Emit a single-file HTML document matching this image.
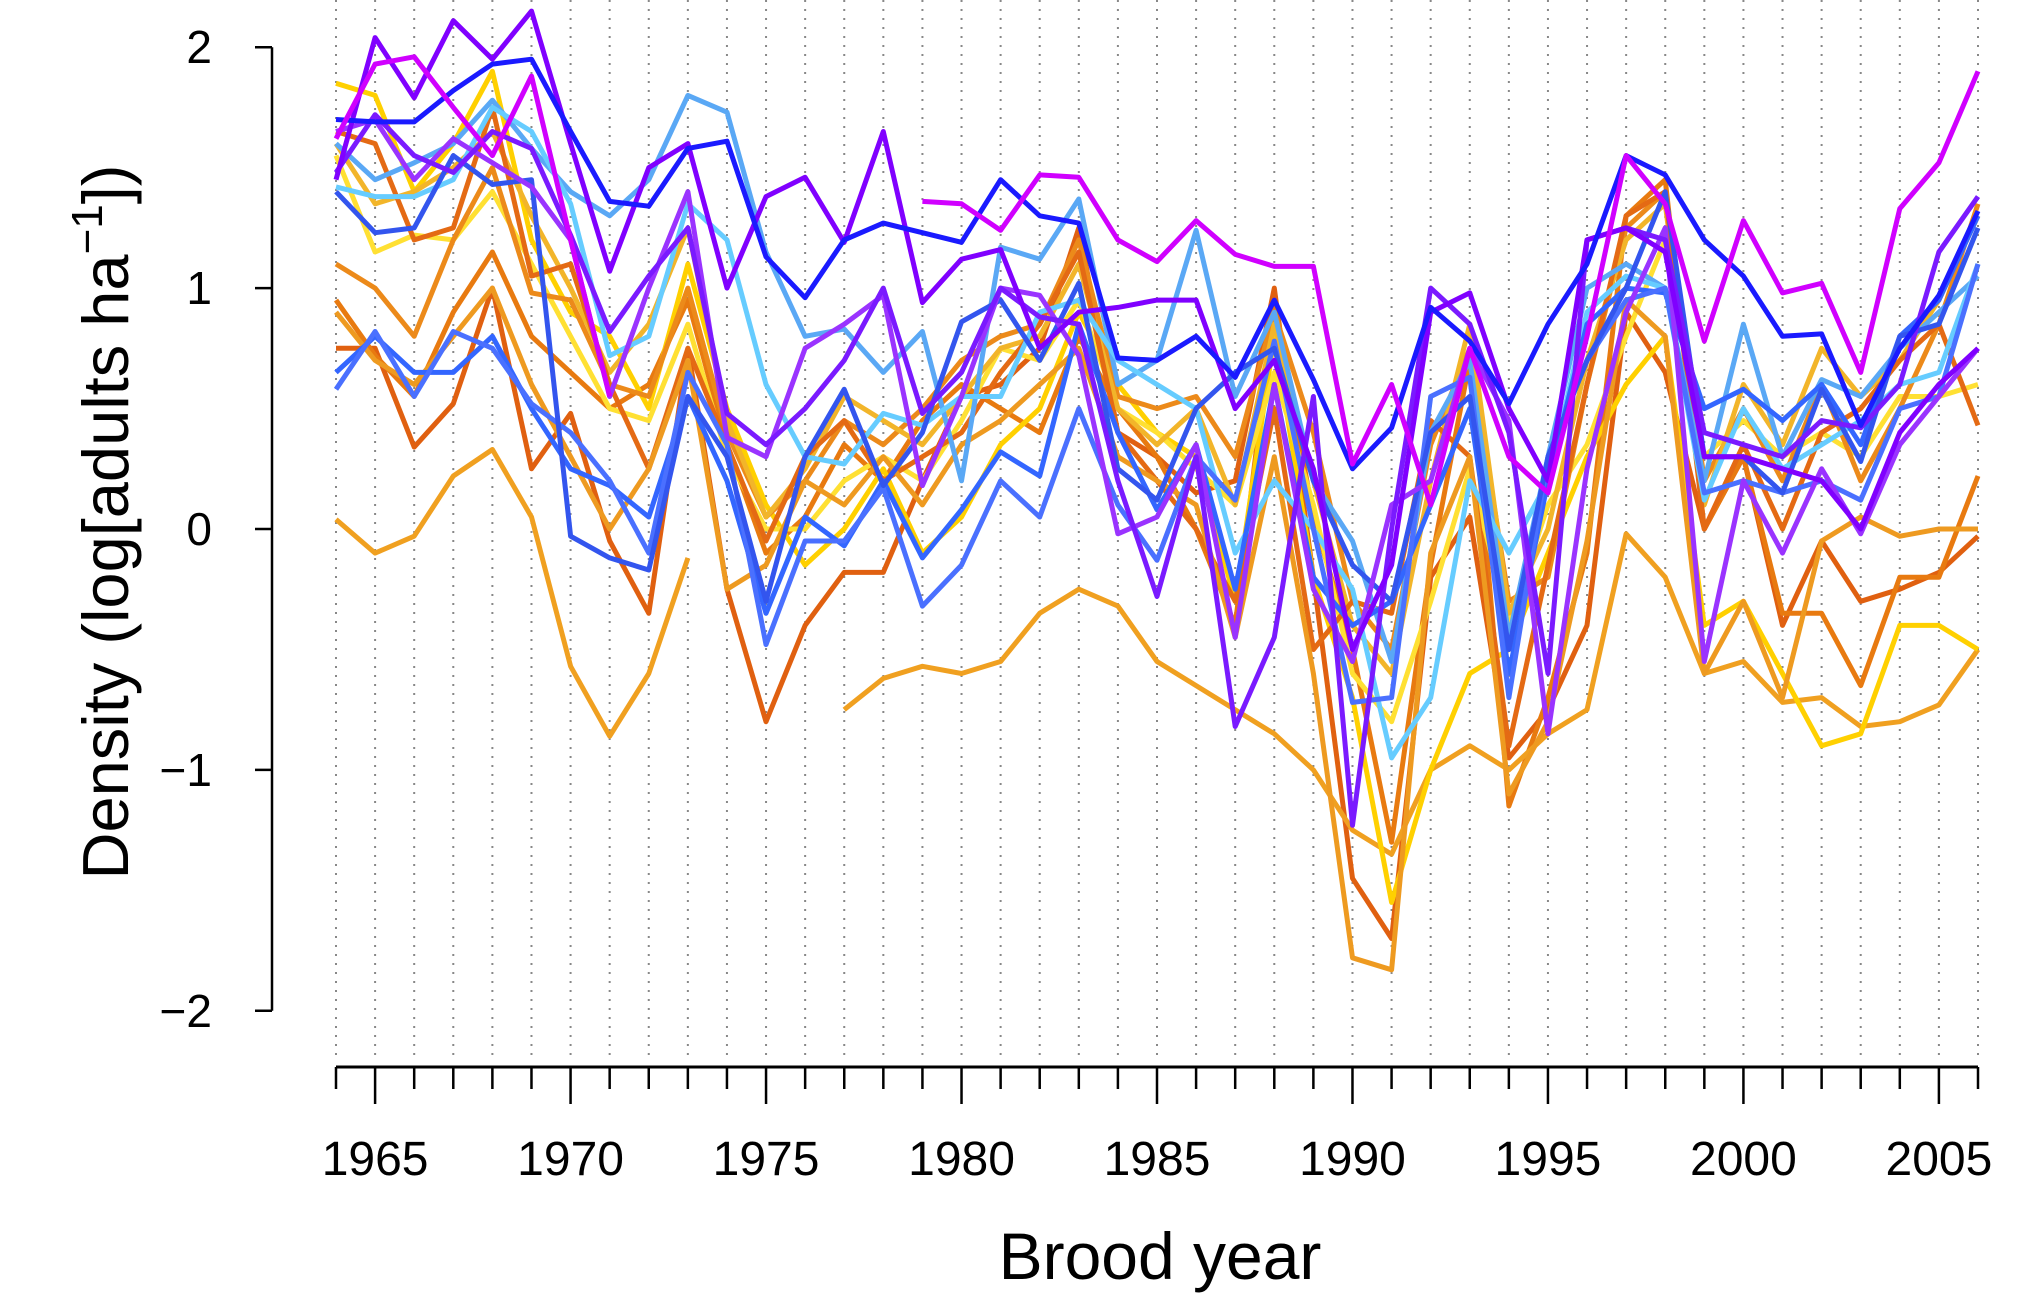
<!DOCTYPE html>
<html><head><meta charset="utf-8"><style>
html,body{margin:0;padding:0;background:#fff;}
svg{display:block;font-family:"Liberation Sans",sans-serif;}
</style></head><body>
<svg id="chart" width="2036" height="1308" viewBox="0 0 2036 1308" xmlns="http://www.w3.org/2000/svg">
<g id="grid"></g>
<g id="series"></g>
<g id="axes"></g>
<text x="1160" y="1279" font-size="66" text-anchor="middle">Brood year</text>
<text transform="translate(128,522) rotate(-90)" font-size="65" text-anchor="middle">Density (log[adults ha<tspan font-size="44" dy="-26">−1</tspan><tspan dy="26">])</tspan></text>
</svg>
<script>
const years = []; for (let y = 1964; y <= 2006; y++) years.push(y);
const xTicks = [1965, 1970, 1975, 1980, 1985, 1990, 1995, 2000, 2005];
const yTicks = [2, 1, 0, -1, -2];
const yTickLabels = ["2", "1", "0", "−1", "−2"];
const seriesColors = ["#e06010","#e87a10","#f0a020","#ffd000","#ffe033","#ec8a1a","#f2b52a","#e46a14","#ee9a20","#5aa8f5","#66ccff","#3366ff","#4a70ff","#3355ee","#9a33ff","#7a1aff","#8000ff","#1a1aff","#d000ff"];
const N = null;
const sO1=[0.75,0.75,0.34,0.52,1.0,0.25,0.48,-0.05,-0.35,0.75,-0.25,-0.8,-0.4,-0.18,-0.18,0.2,0.55,0.6,0.75,1.25,0.4,0.3,0.15,0.2,1.0,-0.2,-1.45,-1.7,-0.2,0.05,-0.95,-0.75,-0.4,0.9,0.65,0.0,0.3,-0.4,-0.05,-0.3,-0.25,-0.18,-0.03];
const sO2=[0.95,0.72,0.55,0.9,1.15,0.8,0.65,0.5,0.6,0.95,0.35,-0.1,0.05,0.35,0.2,0.45,0.6,0.5,0.4,0.8,0.5,0.3,0.0,-0.4,0.95,0.05,-0.5,-1.3,-0.15,0.7,-1.15,-0.7,-0.1,1.3,1.45,0.0,0.3,-0.35,-0.35,-0.65,-0.2,-0.2,0.22];
const sO3=[0.04,-0.1,-0.03,0.22,0.33,0.05,-0.57,-0.86,-0.6,-0.12,N,N,N,-0.75,-0.62,-0.57,-0.6,-0.55,-0.35,-0.25,-0.32,-0.55,-0.65,-0.75,-0.85,-1.0,-1.25,-1.35,-1.0,-0.9,-1.0,-0.85,-0.75,-0.02,-0.2,-0.6,-0.55,-0.72,-0.7,-0.82,-0.8,-0.73,-0.5];
const sO4=[1.85,1.8,1.4,1.6,1.9,1.2,0.9,0.8,0.5,1.1,0.5,0.1,-0.15,0.0,0.25,-0.1,0.05,0.35,0.5,0.9,0.6,0.4,0.3,-0.3,0.8,-0.2,-0.7,-1.55,-1.0,-0.6,-0.5,-0.1,0.3,0.6,0.8,-0.4,-0.3,-0.6,-0.9,-0.85,-0.4,-0.4,-0.5];
const sO5=[1.55,1.15,1.22,1.2,1.4,1.1,0.8,0.5,0.45,0.85,0.3,0.0,0.0,0.2,0.3,0.2,0.45,0.75,0.7,0.95,0.5,0.4,0.25,0.1,0.65,0.1,-0.6,-0.8,-0.3,0.25,-0.4,0.1,0.35,0.8,1.2,0.3,0.45,0.3,0.4,0.3,0.55,0.55,0.6];
const sO6=[1.1,1.0,0.8,1.2,1.5,0.98,0.95,0.6,0.55,1.0,0.4,0.05,0.2,0.45,0.35,0.5,0.7,0.8,0.85,1.2,0.55,0.5,0.55,0.3,0.9,0.4,-0.3,-0.5,0.35,0.75,-0.3,-0.2,0.6,1.25,1.4,0.2,0.5,0.2,0.6,0.2,0.5,0.85,1.35];
const sO7=[1.6,1.35,1.4,1.5,1.65,1.3,1.0,0.65,0.85,1.25,0.45,0.05,0.25,0.55,0.45,0.35,0.55,0.75,0.8,1.1,0.5,0.35,0.5,0.1,0.85,0.2,-0.4,-0.6,0.2,0.85,-0.35,0.0,0.7,1.2,1.35,0.1,0.6,0.35,0.75,0.55,0.7,0.95,1.3];
const sO8=[1.65,1.6,1.2,1.25,1.75,1.05,1.1,0.6,0.25,0.75,0.35,-0.05,0.3,0.45,0.2,0.3,0.4,0.65,0.85,1.15,0.4,0.2,0.0,-0.3,0.5,-0.5,-0.3,-0.35,0.45,0.3,-0.9,-0.15,0.6,1.3,1.4,0.0,0.35,0.0,0.4,0.5,0.7,0.85,0.43];
const sO9=[0.9,0.7,0.6,0.8,1.0,0.6,0.3,0.0,0.25,0.7,-0.25,-0.15,0.2,0.1,0.3,0.1,0.35,0.45,0.6,0.75,0.3,0.2,0.1,-0.45,0.3,-0.6,-1.78,-1.83,-0.1,0.3,-1.1,-0.8,-0.05,0.95,0.8,-0.6,-0.3,-0.7,-0.05,0.05,-0.03,0.0,0.0];
const sB1=[1.6,1.45,1.52,1.6,1.78,1.58,1.4,1.3,1.45,1.8,1.73,1.15,0.8,0.83,0.65,0.82,0.2,1.17,1.12,1.37,0.6,0.7,1.24,0.55,0.9,0.2,-0.05,-0.55,0.4,0.7,-0.45,0.3,1.0,1.1,1.0,0.2,0.85,0.3,0.62,0.55,0.75,0.9,1.05];
const sB2=[1.42,1.38,1.38,1.45,1.75,1.65,1.35,0.72,0.8,1.35,1.2,0.6,0.3,0.27,0.48,0.43,0.55,0.55,0.9,0.95,0.7,0.6,0.5,-0.1,0.2,0.0,-0.25,-0.95,-0.7,0.2,-0.1,0.2,0.9,1.05,1.0,0.12,0.5,0.25,0.35,0.45,0.6,0.65,1.1];
const sB3=[0.65,0.8,0.65,0.65,0.8,0.5,0.25,0.18,0.05,0.55,0.2,-0.35,0.05,-0.07,0.2,-0.12,0.08,0.32,0.22,0.85,0.4,0.08,0.35,-0.25,0.6,-0.2,-0.4,-0.3,0.1,0.5,-0.6,0.2,0.85,1.0,0.98,0.5,0.58,0.45,0.6,0.35,0.8,0.95,1.3];
const sB4=[0.58,0.82,0.55,0.82,0.75,0.52,0.4,0.2,-0.1,0.65,0.35,-0.48,-0.05,-0.05,0.17,-0.32,-0.15,0.2,0.05,0.5,0.1,-0.13,0.3,0.12,0.78,0.0,-0.72,-0.7,0.55,0.63,-0.7,0.3,0.7,0.95,1.0,0.15,0.2,0.15,0.2,0.12,0.5,0.55,1.1];
const sB5=[1.4,1.23,1.25,1.55,1.43,1.45,-0.03,-0.12,-0.17,0.55,0.3,-0.3,0.3,0.58,0.18,0.4,0.86,0.95,0.7,1.02,0.25,0.12,0.5,0.65,0.75,0.2,-0.15,-0.3,0.4,0.55,-0.5,0.3,0.7,1.0,1.4,0.3,0.3,0.15,0.58,0.28,0.8,0.85,1.25];
const sP1=[1.65,1.7,1.45,1.62,1.52,1.42,1.2,0.55,1.0,1.4,0.38,0.3,0.75,0.85,0.97,0.18,0.55,1.0,0.97,0.72,-0.02,0.05,0.35,-0.45,0.6,-0.25,-0.55,0.1,0.2,0.75,0.45,-0.85,0.25,0.9,1.25,-0.55,0.2,-0.1,0.25,-0.02,0.35,0.55,0.75];
const sP2=[1.48,1.72,1.55,1.48,1.65,1.58,1.22,0.82,1.05,1.25,0.48,0.35,0.5,0.7,1.0,0.48,0.65,1.0,0.88,0.85,0.2,-0.28,0.3,-0.82,-0.45,0.55,-1.23,0.0,1.0,0.85,0.4,-0.6,1.2,1.25,1.2,0.4,0.35,0.3,0.45,0.42,0.6,1.15,1.38];
const sP3=[1.45,2.04,1.79,2.11,1.95,2.15,1.6,1.07,1.5,1.6,1.0,1.38,1.46,1.19,1.65,0.94,1.12,1.16,0.75,0.9,0.92,0.95,0.95,0.5,0.7,0.25,-0.5,-0.15,0.9,0.98,0.5,0.2,1.2,1.25,1.15,0.3,0.3,0.25,0.2,0.0,0.4,0.6,0.75];
const sB6=[1.7,1.69,1.69,1.82,1.93,1.95,1.65,1.36,1.34,1.58,1.61,1.13,0.96,1.2,1.27,1.23,1.19,1.45,1.3,1.27,0.71,0.7,0.8,0.63,0.95,0.62,0.25,0.42,0.92,0.78,0.52,0.85,1.1,1.55,1.47,1.2,1.05,0.8,0.81,0.43,0.75,0.97,1.32];
const sM1=[1.62,1.93,1.96,1.75,1.55,1.88,1.2,0.55,N,N,N,N,N,N,N,1.36,1.35,1.24,1.47,1.46,1.2,1.11,1.28,1.14,1.09,1.09,0.27,0.6,0.1,0.75,0.3,0.15,0.8,1.55,1.35,0.78,1.28,0.98,1.02,0.65,1.33,1.52,1.9];
const allSeries=[sO1,sO2,sO3,sO4,sO5,sO6,sO7,sO8,sO9,sB1,sB2,sB3,sB4,sB5,sP1,sP2,sP3,sB6,sM1];

const NS="http://www.w3.org/2000/svg";
const x0=336,x1=1978,yZero=529,yUnit=240.9;
function xs(yr){return x0+(yr-1964)*(x1-x0)/(2006-1964);}
function ys(v){return yZero-v*yUnit;}
function mk(tag,attrs,parent){const e=document.createElementNS(NS,tag);for(const k in attrs)e.setAttribute(k,attrs[k]);parent.appendChild(e);return e;}
const grid=document.getElementById('grid'),ser=document.getElementById('series'),axes=document.getElementById('axes');
years.forEach(yr=>{
  const l=mk('line',{x1:xs(yr),x2:xs(yr),y1:0,y2:1060,stroke:'#888','stroke-width':2,'stroke-dasharray':'2 7'},grid);
  
  
});
allSeries.forEach((s,i)=>{
  let d='',pen=false;
  s.forEach((v,j)=>{
    if(v===null){pen=false;return;}
    d+=(pen?'L':'M')+xs(years[j]).toFixed(1)+' '+ys(v).toFixed(1)+' ';pen=true;
  });
  const p=mk('path',{d:d,fill:'none',stroke:seriesColors[i],'stroke-width':5,'stroke-linejoin':'round'},ser);
  
  
});
const ya=mk('line',{x1:272,x2:272,y1:ys(2),y2:ys(-2),stroke:'#000','stroke-width':2.5},axes);


yTicks.forEach((v,i)=>{
  mk('line',{x1:255,x2:272,y1:ys(v),y2:ys(v),stroke:'#000','stroke-width':2.5},axes);
  const t=mk('text',{x:212,y:ys(v)+16,'font-size':46,'text-anchor':'end'},axes);
  t.textContent=yTickLabels[i];
  
  
});
const xa=mk('line',{x1:x0,x2:x1,y1:1067,y2:1067,stroke:'#000','stroke-width':3},axes);


years.forEach(yr=>{
  const major=xTicks.indexOf(yr)>=0;
  mk('line',{x1:xs(yr),x2:xs(yr),y1:1067,y2:major?1104:1089,stroke:'#000','stroke-width':2.5},axes);
});
xTicks.forEach(yr=>{
  const t=mk('text',{x:xs(yr),y:1175,'font-size':48,'text-anchor':'middle'},axes);
  t.textContent=String(yr);
  
  
});
</script>
</body></html>
